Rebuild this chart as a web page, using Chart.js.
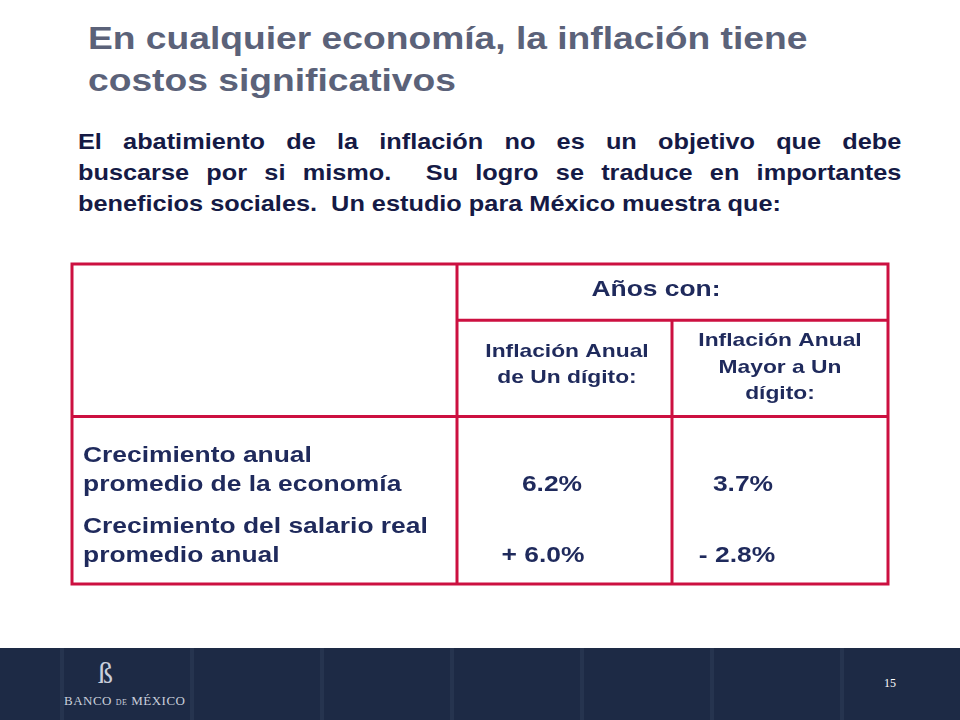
<!DOCTYPE html>
<html>
<head>
<meta charset="utf-8">
<script src="https://cdn.jsdelivr.net/npm/chart.js@4/dist/chart.umd.min.js"></script>
<style>
  body { margin: 0; width: 960px; height: 720px; position: relative; background: #fff; font-family: Arial, "Liberation Sans", sans-serif; overflow: hidden; }
  #title { position: absolute; left: 88px; top: 18px; font-size: 31px; font-weight: bold; color: #5b6279; line-height: 42px; transform: scaleX(1.2); transform-origin: left top; white-space: nowrap; }
  #intro { position: absolute; left: 78px; top: 126px; width: 716px; font-size: 22px; font-weight: bold; color: #151a45; line-height: 31px; transform: scaleX(1.15); transform-origin: left top; }
  #intro div { white-space: nowrap; }
  #intro .j { text-align: justify; text-align-last: justify; }
  #wrap { position: absolute; left: 68px; top: 260px; width: 824px; height: 328px; }
  #footer { position: absolute; left: 0; top: 648px; width: 960px; height: 72px;
    background: repeating-linear-gradient(90deg, #1d2a45 0 60px, #26344f 60px 64px, #1d2a45 64px 130px); }
  #logo { position: absolute; left: 64px; top: 693px; font-family: "Liberation Serif", serif; font-size: 13px; color: #c9cfdb; letter-spacing: 0.5px; }
  #mark { position: absolute; left: 98px; top: 656px; font-family: "Liberation Serif", serif; font-size: 30px; color: #c9cfdb; }
  #page { position: absolute; left: 884px; top: 676px; font-family: "Liberation Serif", serif; font-size: 12px; color: #fff; }
</style>
</head>
<body>
<div id="title">En cualquier economía, la inflación tiene<br>costos significativos</div>
<div id="intro">
  <div class="j">El abatimiento de la inflación no es un objetivo que debe</div>
  <div class="j">buscarse por si mismo.&nbsp; Su logro se traduce en importantes</div>
  <div>beneficios sociales.&nbsp; Un estudio para México muestra que:</div>
</div>
<div id="wrap"><canvas id="chart" width="824" height="328"></canvas></div>
<div id="footer"></div>
<div id="mark">ß</div>
<div id="logo">BANCO <span style="font-size:8px">DE</span> MÉXICO</div>
<div id="page">15</div>
<script>
// datos de la tabla
const groupHeader = 'Años con:';
const colHeaders = [
  ['Inflación Anual', 'de Un dígito:'],
  ['Inflación Anual', 'Mayor a Un', 'dígito:']
];
const rowLabels = [
  ['Crecimiento anual', 'promedio de la economía'],
  ['Crecimiento del salario real', 'promedio anual']
];
const singleDigit = ['6.2%', '+ 6.0%'];
const multiDigit = ['3.7%', '- 2.8%'];

// columnas: bordes en unidades del eje x (0..816), filas en eje y (0..319)
const colEdges = [0, 385, 600, 816];
const rowEdges = [0, 56, 152, 319];

const tablePlugin = {
  id: 'tabla',
  afterDraw(c) {
    const ctx = c.ctx, x = c.scales.x, y = c.scales.y;
    const X = v => x.getPixelForValue(v), Y = v => y.getPixelForValue(v);
    ctx.save();
    ctx.strokeStyle = '#cc1040';
    ctx.lineWidth = 3;
    ctx.strokeRect(X(0), Y(0), X(816) - X(0), Y(319) - Y(0));
    const line = (x1, y1, x2, y2) => { ctx.beginPath(); ctx.moveTo(X(x1), Y(y1)); ctx.lineTo(X(x2), Y(y2)); ctx.stroke(); };
    line(colEdges[1], 0, colEdges[1], 319);
    line(colEdges[2], rowEdges[1], colEdges[2], 319);
    line(colEdges[1], rowEdges[1], 816, rowEdges[1]);
    line(0, rowEdges[2], 816, rowEdges[2]);

    // texto estirado en horizontal como en la diapositiva
    const text = (t, px, py) => {
      ctx.save();
      ctx.translate(px, py);
      ctx.scale(1.2, 1);
      ctx.fillText(t, 0, 0);
      ctx.restore();
    };
    ctx.fillStyle = '#1f2a5c';
    ctx.textBaseline = 'middle';
    ctx.textAlign = 'center';
    ctx.font = 'bold 22px Arial';
    text(groupHeader, X(584), Y(26));
    ctx.font = 'bold 19px Arial';
    const mids = [495, 708];
    const starts = [87, 77];
    colHeaders.forEach((h, i) => h.forEach((t, j) => text(t, X(mids[i]), Y(starts[i] + j * 26))));

    ctx.font = 'bold 22px Arial';
    ctx.textAlign = 'left';
    const rowY = [191, 262];
    rowLabels.forEach((r, i) => r.forEach((t, j) => text(t, X(11), Y(rowY[i] + j * 29))));
    ctx.textAlign = 'center';
    singleDigit.forEach((v, i) => text(v, X(i ? 471 : 480), Y(rowY[i] + 29)));
    multiDigit.forEach((v, i) => text(v, X(i ? 665 : 671), Y(rowY[i] + 29)));
    ctx.restore();
  }
};

new Chart(document.getElementById('chart'), {
  type: 'scatter',
  data: { datasets: [{ data: [] }] },
  options: {
    responsive: false,
    animation: false,
    layout: { padding: 4 },
    plugins: { legend: { display: false }, tooltip: { enabled: false } },
    scales: {
      x: { type: 'linear', min: 0, max: 816, display: false },
      y: { type: 'linear', min: 0, max: 319, reverse: true, display: false }
    }
  },
  plugins: [tablePlugin]
});
</script>
</body>
</html>
